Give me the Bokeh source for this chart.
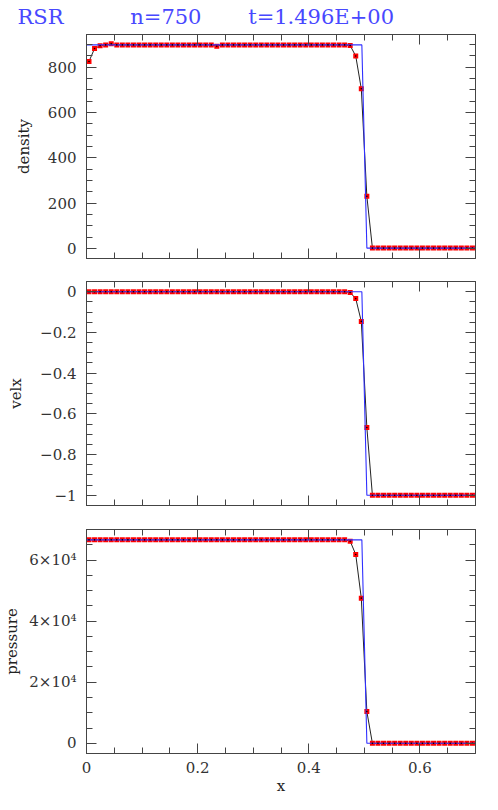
from bokeh.plotting import figure
from bokeh.models import (Range1d, LinearAxis, SingleIntervalTicker, CustomJSTickFormatter,
                          CustomLabelingPolicy)
from bokeh.layouts import column
from bokeh.embed import file_html
from bokeh.resources import INLINE

# ---------------- data ----------------
x = [0.0045, 0.0145, 0.0245, 0.0345, 0.0445, 0.0545, 0.0645, 0.0745, 0.0845, 0.0945,
     0.1045, 0.1145, 0.1245, 0.1345, 0.1445, 0.1545, 0.1645, 0.1745, 0.1845, 0.1945,
     0.2045, 0.2145, 0.2245, 0.2345, 0.2445, 0.2545, 0.2645, 0.2745, 0.2845, 0.2945,
     0.3045, 0.3145, 0.3245, 0.3345, 0.3445, 0.3545, 0.3645, 0.3745, 0.3845, 0.3945,
     0.4045, 0.4145, 0.4245, 0.4345, 0.4445, 0.4545, 0.4645, 0.4745, 0.4845, 0.4945,
     0.5045, 0.5145, 0.5245, 0.5345, 0.5445, 0.5545, 0.5645, 0.5745, 0.5845, 0.5945,
     0.6045, 0.6145, 0.6245, 0.6345, 0.6445, 0.6545, 0.6645, 0.6745, 0.6845, 0.6945]

density = [826, 883, 895, 899, 904, 899, 899, 899, 899, 899,
           899, 899, 899, 899, 899, 899, 899, 899, 899, 899,
           899, 899, 899, 893, 899, 899, 899, 899, 899, 899,
           899, 899, 899, 899, 899, 899, 899, 899, 899, 899,
           899, 899, 899, 899, 899, 899, 899, 896, 850, 705,
           230, 1, 1, 1, 1, 1, 1, 1, 1, 1,
           1, 1, 1, 1, 1, 1, 1, 1, 1, 1]

velx = [0, 0, 0, 0, 0, 0, 0, 0, 0, 0,
        0, 0, 0, 0, 0, 0, 0, 0, 0, 0,
        0, 0, 0, 0, 0, 0, 0, 0, 0, 0,
        0, 0, 0, 0, 0, 0, 0, 0, 0, 0,
        0, 0, 0, 0, 0, 0, 0, -0.004, -0.034, -0.146,
        -0.667, -1.0, -1.0, -1.0, -1.0, -1.0, -1.0, -1.0, -1.0, -1.0,
        -1.0, -1.0, -1.0, -1.0, -1.0, -1.0, -1.0, -1.0, -1.0, -1.0]

pressure = [66650, 66650, 66650, 66650, 66650, 66650, 66650, 66650, 66650, 66650,
            66650, 66650, 66650, 66650, 66650, 66650, 66650, 66650, 66650, 66650,
            66650, 66650, 66650, 66650, 66650, 66650, 66650, 66650, 66650, 66650,
            66650, 66650, 66650, 66650, 66650, 66650, 66650, 66650, 66650, 66650,
            66650, 66650, 66650, 66650, 66650, 66650, 66650, 66200, 61850, 47550,
            10400, 0, 0, 0, 0, 0, 0, 0, 0, 0,
            0, 0, 0, 0, 0, 0, 0, 0, 0, 0]

x_exact = [0.0, 0.4955, 0.5045, 0.7]
density_exact = [899, 899, 1, 1]
velx_exact = [0, 0, -1, -1]
pressure_exact = [66650, 66650, 0, 0]

x_tick_values = [0, 0.2, 0.4, 0.6]
x_tick_labels = ["0", "0.2", "0.4", "0.6"]
density_tick_values = [0, 200, 400, 600, 800]
density_tick_labels = ["0", "200", "400", "600", "800"]
velx_tick_values = [0, -0.2, -0.4, -0.6, -0.8, -1.0]
velx_tick_labels = ["0", "\u22120.2", "\u22120.4", "\u22120.6", "\u22120.8", "\u22121"]
pressure_tick_values = [0, 20000, 40000, 60000]
pressure_tick_labels = ["0", "2\u00d710\u2074", "4\u00d710\u2074", "6\u00d710\u2074"]

title_texts = ["RSR", "n=750", "t=1.496E+00"]

# ---------------- styling ----------------
FONT = "DejaVu Serif"
AX = "#444444"
BLUE = "#4848ff"
FRAME_W = 389
FRAME_H = 224
NB = "\u00a0"

LOOKUP = """
let best = 0, bd = Infinity;
for (let i = 0; i < vals.length; i++) {
  const d = Math.abs(vals[i] - tick);
  if (d < bd) { bd = d; best = i; }
}
return labs[best];
"""

NO_LABELS = """
try {
  const r = indices.clone();
  for (let i = 0; i < r.size; i++) { r.unset(i); }
  return r;
} catch (e) {
  return indices;
}
"""


def fmt(vals, labs):
    return CustomJSTickFormatter(args=dict(vals=vals, labs=labs), code=LOOKUP)


def style(ax, show):
    ax.axis_line_color = AX
    ax.major_tick_line_color = AX
    ax.minor_tick_line_color = AX
    ax.major_tick_in = 10
    ax.major_tick_out = 0
    ax.minor_tick_in = 6
    ax.minor_tick_out = 0
    if show:
        ax.major_label_text_font = FONT
        ax.major_label_text_font_size = "15px"
        ax.major_label_text_color = "#333333"
    else:
        ax.major_label_policy = CustomLabelingPolicy(code=NO_LABELS)
        ax.major_label_text_font_size = "1px"
        ax.major_label_standoff = 0
        ax.axis_label = None


def panel(yvals, yexact, ylabel, yrange, yinterval, ytv, ytl, top, bottom, show_x,
          lab_standoff):
    p = figure(frame_width=FRAME_W, frame_height=FRAME_H,
               x_range=Range1d(0, 0.7), y_range=Range1d(*yrange),
               output_backend="svg", toolbar_location=None,
               min_border_left=81, min_border_right=12,
               min_border_top=top, min_border_bottom=bottom)
    p.grid.visible = False
    p.outline_line_color = AX

    xa = p.xaxis[0]
    xa.ticker = SingleIntervalTicker(interval=0.2, num_minor_ticks=4)
    xa.formatter = fmt(x_tick_values, x_tick_labels)
    style(xa, show_x)
    if show_x:
        xa.major_label_standoff = 8
        xa.axis_label = "x"
        xa.axis_label_text_font = FONT
        xa.axis_label_text_font_size = "15px"
        xa.axis_label_text_font_style = "normal"
        xa.axis_label_text_color = "#222222"
        xa.axis_label_standoff = 1

    ya = p.yaxis[0]
    ya.ticker = SingleIntervalTicker(interval=yinterval, num_minor_ticks=4)
    ya.formatter = fmt(ytv, ytl)
    style(ya, True)
    ya.major_label_standoff = 10
    ya.axis_label = ylabel
    ya.axis_label_text_font = FONT
    ya.axis_label_text_font_size = "15px"
    ya.axis_label_text_font_style = "normal"
    ya.axis_label_text_color = "#222222"
    ya.axis_label_standoff = lab_standoff

    ta = LinearAxis(ticker=SingleIntervalTicker(interval=0.2, num_minor_ticks=4))
    style(ta, False)
    p.add_layout(ta, "above")
    ra = LinearAxis(ticker=SingleIntervalTicker(interval=yinterval, num_minor_ticks=4))
    style(ra, False)
    p.add_layout(ra, "right")

    p.line(x, yvals, line_color="#222222", line_width=1)
    p.scatter(x, yvals, marker="square", size=5, fill_color="#ff0000",
              line_color=None)
    p.line(x_exact, yexact, line_color="#3030ff", line_width=1.1)
    p.scatter(x, yvals, marker="circle", size=1.6, fill_color="#000000",
              line_color=None)
    return p


p1 = panel(density, density_exact, "density", (-45, 945), 200,
           density_tick_values, density_tick_labels, 31, 11, False, 12)
p2 = panel(velx, velx_exact, "velx", (-1.05, 0.05), 0.2,
           velx_tick_values, velx_tick_labels, 12, 12, False, 12)
p3 = panel(pressure, pressure_exact, "pressure", (-3335, 70035), 20000,
           pressure_tick_values, pressure_tick_labels, 12, 10, True, 5)

# title line of the top panel
p1.title.text = (title_texts[0] + NB * 10 + title_texts[1] + NB * 7 + title_texts[2])
p1.title.align = "left"
p1.title.offset = -76
p1.title.text_font = FONT
p1.title.text_font_size = "21px"
p1.title.text_font_style = "normal"
p1.title.text_color = BLUE
p1.title.padding = (7, 0, 0, 0)
p1.title.standoff = 4

layout = column(p1, p2, p3)
open("out.html", "w").write(file_html(layout, INLINE))
